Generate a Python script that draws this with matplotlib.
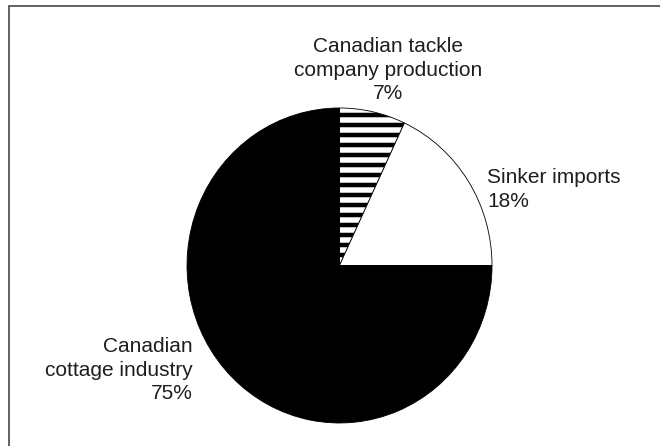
import matplotlib
matplotlib.use('Agg')
import matplotlib.pyplot as plt
from matplotlib.patches import Rectangle

# data
labels = ['Canadian tackle\ncompany production\n7%',
          'Sinker imports\n18%',
          'Canadian\ncottage industry\n75%']
shares = [7, 18, 75]
faces = ['white', 'white', 'black']
hatches = ['-', None, None]

# dpi 60 so that the '-' hatch gives ~10 px stripes
DPI = 60
W, H = 660, 446
plt.rcParams['font.family'] = ['Liberation Sans', 'DejaVu Sans']
plt.rcParams['hatch.linewidth'] = 5.4
plt.rcParams['hatch.color'] = 'black'

fig = plt.figure(figsize=(W / DPI, H / DPI), dpi=DPI)
fig.patch.set_facecolor('white')

# pie sits slightly taller than wide in the original
ax = fig.add_axes([187 / W, 1 - 423 / H, 305 / W, 315 / H])
wedges, _ = ax.pie(shares, colors=faces, startangle=90, counterclock=False,
                   radius=1, wedgeprops=dict(edgecolor='black', linewidth=1.0))
for w, h in zip(wedges, hatches):
    if h:
        w.set_hatch(h)
ax.set_aspect('auto')
ax.set_xlim(-1, 1)
ax.set_ylim(-1, 1)
ax.axis('off')

# labels
fs = 25
txt = dict(fontsize=fs, color='#1e1e1e', linespacing=1.29)
fig.text(388 / W, 1 - 70 / H, labels[0], ha='center', va='center',
         multialignment='center', **txt)
fig.text(487 / W, 1 - 189.5 / H, labels[1], ha='left', va='center',
         multialignment='left', **txt)
fig.text(193 / W, 1 - 370 / H, labels[2], ha='right', va='center',
         multialignment='right', **txt)

# frame (only top and left edges show in the crop)
fig.add_artist(Rectangle((8.5 / W, -0.5), 2, (1 - 5.5 / H) + 0.5,
                         transform=fig.transFigure, fill=False,
                         edgecolor='#333333', linewidth=1.8))

fig.savefig('out.png', dpi=DPI, facecolor='white')
